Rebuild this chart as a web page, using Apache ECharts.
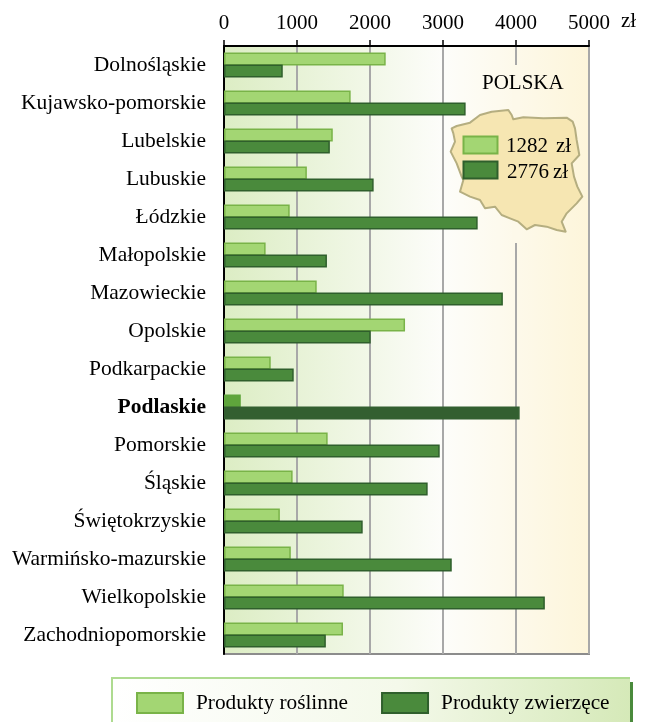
<!DOCTYPE html>
<html><head><meta charset="utf-8">
<style>html,body{margin:0;padding:0;background:#fff}#c{width:648px;height:722px}</style>
<script src="https://cdn.jsdelivr.net/npm/echarts@6/dist/echarts.min.js"></script>
</head><body><div id="c"></div>
<script>
const categories = ['Dolnośląskie','Kujawsko-pomorskie','Lubelskie','Lubuskie','Łódzkie','Małopolskie','Mazowieckie','Opolskie','Podkarpackie','Podlaskie','Pomorskie','Śląskie','Świętokrzyskie','Warmińsko-mazurskie','Wielkopolskie','Zachodniopomorskie'];
const roslinne = [2215,1735,1490,1135,900,570,1270,2480,640,230,1420,940,765,915,1640,1630];
const zwierzece = [805,3310,1450,2050,3475,1410,3820,2010,955,4050,2955,2790,1900,3120,4395,1395];
const highlighted = 'Podlaskie';
const seriesNames = ['Produkty roślinne','Produkty zwierzęce'];
const polskaValues = ['1282','2776'];
const FONT = '"Liberation Serif", serif';
const L = {fill:'#a3d673',border:'#79b348'}, D = {fill:'#4a8a3c',border:'#2f5f2c'};
const mapZoom = [[95,385],[110,378],[150,368],[180,345],[215,335],[265,330],[275,345],[280,358],[310,352],[370,355],[440,353],[458,365],[465,385],[470,420],[478,465],[455,490],[462,530],[472,560],[487,590],[470,610],[440,640],[425,665],[437,695],[410,690],[380,680],[345,675],[320,688],[295,665],[270,655],[245,645],[225,620],[195,625],[180,600],[150,590],[120,575],[130,540],[125,530],[110,490],[92,455],[105,425],[100,400]];
const mapPts = mapZoom.map(p => [420 + p[0]/3, p[1]/3]);
const chart = echarts.init(document.getElementById('c'), null, {renderer:'canvas'});
const mk = (vals, hl) => vals.map((v,i) => categories[i]===highlighted
  ? {value:v, itemStyle:{color:hl, borderColor:hl}} : v);
const txt = (x,y,s,size) => ({type:'text',x,y,z:20,style:{text:s,font:`${size}px ${FONT}`,fill:'#000',textVerticalAlign:'middle'}});
const swatch = (x,y,w,h,c,bw) => ({type:'rect',z:20,shape:{x,y,width:w,height:h},style:{fill:c.fill,stroke:c.border,lineWidth:bw}});
chart.setOption({
  animation:false,
  textStyle:{fontFamily:FONT},
  grid:{left:224,top:46,width:365,height:608,show:true,borderColor:'#8c8c8c',borderWidth:2,
    backgroundColor:new echarts.graphic.LinearGradient(0,0,1,0,[{offset:0,color:'#dcedc4'},{offset:0.6,color:'#fdfdfa'},{offset:1,color:'#fdf5da'}])},
  legend:{left:136,top:692,padding:0,itemWidth:46,itemHeight:20,itemGap:33,selectedMode:false,icon:'rect',
    data:seriesNames,textStyle:{fontFamily:FONT,fontSize:21.3,color:'#000',padding:[5,0,0,8]}},
  xAxis:{type:'value',position:'top',min:0,max:5000,interval:1000,
    axisLine:{show:true,lineStyle:{color:'#000',width:2}},
    axisTick:{show:true,length:6,lineStyle:{color:'#000',width:1.5}},
    axisLabel:{fontFamily:FONT,fontSize:21,color:'#000',margin:12,formatter:v=>String(v)},
    splitLine:{show:true,lineStyle:{color:'#a8a8a8',width:2}}},
  yAxis:{type:'category',inverse:true,
    data:categories.map(c => c===highlighted ? {value:c,textStyle:{fontWeight:'bold'}} : c),
    axisLine:{show:true,lineStyle:{color:'#000',width:2}},axisTick:{show:false},
    axisLabel:{fontFamily:FONT,fontSize:21.5,color:'#000',margin:18,padding:[5,0,0,0]},splitLine:{show:false}},
  series:[
    {name:seriesNames[0],type:'bar',barWidth:13,barGap:'-8%',z:2,data:mk(roslinne,'#5fa53c'),itemStyle:{color:L.fill,borderColor:L.border,borderWidth:1.5}},
    {name:seriesNames[1],type:'bar',barWidth:13,barGap:'-8%',z:3,data:mk(zwierzece,'#335f30'),itemStyle:{color:D.fill,borderColor:D.border,borderWidth:1.5}}
  ],
  graphic:[
    {type:'rect',z:1,silent:true,shape:{x:112,y:678,width:518,height:44},style:{fill:new echarts.graphic.LinearGradient(0,0,1,1,[{offset:0,color:'#ffffff'},{offset:0.55,color:'#f4f9ea'},{offset:1,color:'#d5e9b8'}])}},
    {type:'rect',z:1,shape:{x:111,y:677,width:519,height:2},style:{fill:'#aedb90'}},
    {type:'rect',z:1,shape:{x:111,y:677,width:2,height:45},style:{fill:'#aedb90'}},
    {type:'rect',z:1,shape:{x:630,y:682,width:3,height:40},style:{fill:'#4a8a3c'}},
    {type:'rect',z:5,shape:{x:512,y:65,width:8,height:178},style:{fill:'#fdf9ea'}},
    {type:'polygon',z:10,shape:{points:mapPts},style:{fill:'#f6e6b2',stroke:'#b5ae80',lineWidth:2,lineJoin:'round'}},
    txt(482,83,'POLSKA',21),
    swatch(463.5,136.5,34,17,L,2),
    swatch(463.5,161.5,34,17,D,2),
    txt(506,146,polskaValues[0],21),
    txt(556,146,'zł',21),
    txt(507,172,polskaValues[1],21),
    txt(553,172,'zł',21),
    txt(621,21,'zł',21)
  ]
});
</script></body></html>
